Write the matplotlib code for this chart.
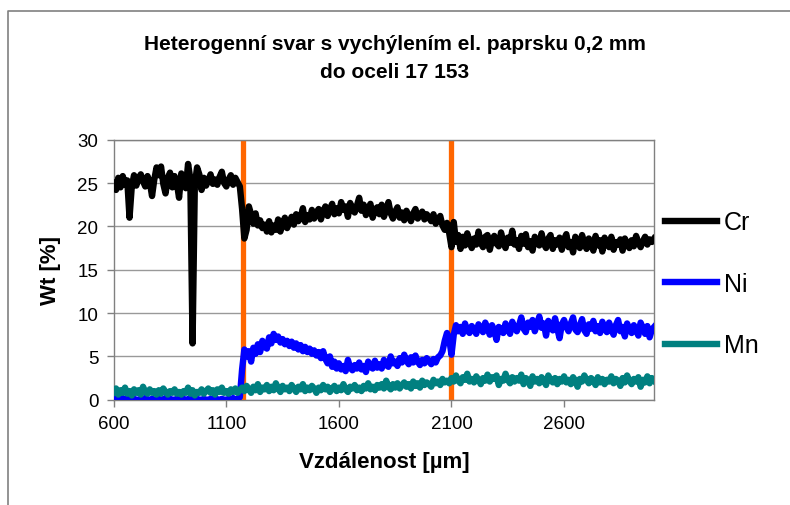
import numpy as np
import matplotlib.pyplot as plt
from matplotlib.lines import Line2D

plt.rcParams['font.family'] = ['Liberation Sans', 'DejaVu Sans']

# distance [um], 10 um step
dist = np.arange(600, 3001, 10)

cr = [
    25.0, 24.2, 25.6, 24.5, 25.8, 24.8, 25.3, 21.0, 24.6, 25.9,
    24.7, 25.5, 26.0, 25.2, 24.6, 25.8, 25.1, 23.5, 25.4, 26.8,
    25.9, 26.9, 24.9, 23.8, 25.6, 26.2, 24.5, 25.8, 25.0, 23.3,
    26.1, 25.2, 24.4, 27.2, 25.5, 6.5, 24.8, 26.8, 26.0, 24.2,
    25.6, 24.7, 25.3, 26.0, 24.9, 25.4, 24.8, 25.7, 26.3, 25.0,
    24.6, 25.4, 25.9, 24.8, 25.6, 25.1, 24.6, 22.0, 18.6, 19.6,
    22.3, 21.4, 20.3, 21.5, 20.1, 20.7, 19.8, 20.2, 19.4, 20.6,
    19.3, 20.1, 19.6, 20.8, 19.4, 20.3, 21.0, 19.8, 20.5, 21.1,
    20.2, 21.4, 20.6, 21.0, 22.1, 20.5, 21.3, 20.8, 21.9, 20.9,
    21.6, 22.0, 20.8, 21.7, 22.3, 21.2, 22.0, 22.6, 21.4, 22.1,
    21.5, 22.8, 21.9, 22.3, 21.1, 22.7, 22.0, 21.6, 22.4, 23.3,
    21.8, 22.5, 21.3, 22.0, 22.6, 21.0, 21.9, 22.2, 21.4, 22.5,
    21.1, 21.9, 22.8, 21.5, 20.9, 21.7, 22.2, 21.0, 21.6, 20.7,
    21.8, 21.2, 20.6, 21.5, 22.0, 20.9, 21.3, 21.7, 20.8, 21.4,
    21.0, 20.6, 21.4, 20.3, 20.8, 21.2, 20.1, 19.6, 20.4, 19.2,
    17.6, 20.5, 18.2, 19.0, 17.4, 18.8, 17.8, 19.2, 18.3, 17.5,
    18.6, 17.9, 19.4, 18.1, 17.6, 18.8, 19.0, 17.3, 18.4, 18.9,
    18.0, 17.7, 19.3, 18.2, 17.5, 18.7, 18.1, 19.5, 17.9, 18.4,
    17.4, 18.9, 18.0, 19.1, 17.6, 18.3, 17.2, 18.8, 18.1, 17.8,
    19.2, 18.0, 17.5, 18.6, 19.0, 17.4, 18.4, 17.9, 18.7, 17.3,
    18.5, 19.1, 17.6, 18.2, 17.0, 18.8, 18.3, 17.5, 19.0, 18.0,
    17.4, 18.6, 18.1, 17.2, 18.9, 17.8, 18.4, 17.1, 18.7, 18.0,
    17.6, 18.8, 17.3, 18.2, 17.9, 18.5, 17.2, 18.6, 18.0, 17.5,
    18.4, 17.7, 18.9, 18.1, 17.6, 18.3, 18.8, 17.9, 18.5, 18.2,
    18.6,
]

ni = [
    0.0, 0.1, 0.0, 0.0, 0.2, 0.0, 0.1, 0.0, 0.0, 0.1,
    0.0, 0.0, 0.1, 0.0, 0.2, 0.0, 0.0, 0.1, 0.0, 0.0,
    0.1, 0.0, 0.0, 0.2, 0.0, 0.1, 0.0, 0.0, 0.1, 0.0,
    0.0, 0.1, 0.0, 0.0, 0.2, 0.0, 0.0, 0.1, 0.0, 0.0,
    0.1, 0.0, 0.0, 0.1, 0.0, 0.2, 0.0, 0.0, 0.1, 0.0,
    0.0, 0.1, 0.0, 0.2, 0.0, 0.1, 0.3, 3.5, 5.8, 5.0,
    5.6, 4.4, 6.0, 5.3, 6.4, 5.5, 6.8, 6.1, 5.9, 7.2,
    6.5, 7.6, 6.9, 7.3, 6.6, 7.0, 6.4, 6.8, 6.2, 6.7,
    6.0, 6.5, 5.8, 6.3, 5.6, 6.1, 5.5, 5.9, 5.3, 5.7,
    5.1, 5.5, 4.8, 5.6, 4.7, 4.2, 5.0, 3.8, 4.4, 3.6,
    4.2, 3.5, 3.9, 3.3, 4.6, 3.7, 3.4, 4.0, 3.6, 4.3,
    3.5, 3.9, 3.2, 4.4, 3.8, 3.6, 4.5, 3.7, 4.1, 3.6,
    4.6, 4.0, 3.8, 5.0, 4.2, 4.4, 3.9, 4.8, 4.3, 5.2,
    4.5, 4.1, 4.9, 4.3, 5.1, 4.4, 4.0, 4.6, 4.2, 4.8,
    4.5, 4.1, 4.7, 4.3, 4.9, 5.1, 5.6, 6.8, 7.7, 7.0,
    5.2, 7.5, 8.6, 7.9, 8.4, 7.6, 8.8, 8.0, 7.7, 8.5,
    8.1, 7.6, 8.7, 8.2, 7.8, 8.9, 8.3, 7.5, 8.6, 8.0,
    6.9, 8.4, 8.1, 7.7, 8.8, 8.2, 7.6, 9.0, 8.3, 7.9,
    8.6, 9.5, 8.2, 7.8, 8.9, 8.4, 9.2, 7.9, 8.7, 9.6,
    8.3, 8.8, 7.4, 9.1, 8.5, 8.0, 9.4, 8.2, 7.1, 8.7,
    9.2, 8.4, 7.9, 8.8, 9.5, 8.1, 7.8, 8.6, 9.3, 8.0,
    7.6, 8.7, 8.2, 9.1, 7.9, 8.5, 7.7, 9.0, 8.3, 7.8,
    8.9, 8.1, 7.5, 8.6, 9.2, 7.9, 8.4, 7.3, 8.8, 8.2,
    7.7, 8.6, 8.0, 7.4, 8.9, 8.3, 7.6, 8.5, 7.2, 8.1,
    8.4,
]

mn = [
    0.9, 1.3, 0.6, 1.1, 0.8, 1.4, 0.7, 1.0, 0.5, 1.2,
    0.8, 1.1, 0.6, 1.5, 0.9, 0.7, 1.2, 0.8, 1.0, 0.6,
    1.1, 0.7, 1.3, 0.9, 0.6, 1.0, 0.8, 1.2, 0.7, 0.9,
    0.6, 1.0, 0.8, 1.4, 0.7, 1.1, 0.5, 0.9, 0.8, 1.2,
    0.7, 1.0, 1.3, 0.8, 1.1, 0.6, 1.2, 0.9, 1.4, 0.8,
    1.0, 0.7, 1.2, 0.9, 1.3, 0.8, 1.1, 1.4, 1.0, 1.6,
    1.2, 0.8, 1.5, 1.1, 1.8, 0.9, 1.4, 1.2, 1.7, 1.0,
    1.5, 1.1, 1.9, 1.3, 0.9, 1.6, 1.2, 1.4, 1.0, 1.7,
    1.3, 0.9, 1.5, 1.2, 1.8, 1.0, 1.4, 1.1, 1.6, 1.3,
    0.8, 1.4, 1.1, 1.7, 1.2, 1.5, 0.9, 1.3, 1.6, 1.0,
    1.4, 1.1, 1.8, 1.2, 0.9, 1.5, 1.3, 1.7, 1.1, 1.4,
    1.0, 1.6, 1.3, 1.9, 1.2, 1.5, 1.1, 1.7, 1.4, 1.8,
    1.3, 2.2, 1.5, 1.2, 1.8, 1.4, 1.9, 1.3, 1.7, 2.0,
    1.5, 1.8, 1.3, 2.1, 1.6, 1.9, 1.4, 2.2, 1.7, 2.0,
    1.8, 1.5, 2.3, 1.9, 2.1, 1.7, 2.4, 2.0, 2.2, 1.9,
    2.5, 2.1, 2.8, 2.2, 1.9, 2.6, 2.3, 3.0, 2.1, 2.4,
    2.0, 2.7, 2.3, 1.8, 2.5, 2.2, 2.9, 2.1, 2.6, 2.4,
    2.8, 1.7, 2.4, 2.2, 3.0, 2.3, 1.9, 2.6, 2.1, 2.5,
    2.2, 2.9, 1.8, 2.5, 2.3, 1.6, 2.7, 2.1, 2.4, 1.9,
    2.6, 2.2, 1.7, 2.8, 2.3, 2.0, 2.5, 1.8, 2.4, 2.1,
    2.7, 2.0, 2.3, 1.8, 2.6, 2.2, 1.5, 2.4, 2.1, 2.8,
    2.3, 1.9, 2.5, 2.2, 1.7, 2.6, 2.0, 2.4, 1.8, 2.3,
    2.1, 2.7, 1.9, 2.4, 2.2, 1.6, 2.5, 2.0, 2.8, 2.2,
    1.8, 2.4, 2.1, 2.6, 1.5, 2.3, 2.0, 2.7, 1.9, 2.5,
    2.2,
]

# weld boundaries
boundaries = [1175, 2100]

fig = plt.figure(figsize=(7.9, 5.06), dpi=100)
ax = fig.add_axes([0.144, 0.208, 0.684, 0.514])

for b in boundaries:
    ax.plot([b, b], [0, 30], color='#FF6600', lw=3.8, solid_capstyle='butt', zorder=2)

ax.plot(dist, cr, color='black', lw=4.6, label='Cr', zorder=3)
ax.plot(dist, ni, color='#0000FF', lw=4.6, label='Ni', zorder=3)
ax.plot(dist, mn, color='#008080', lw=4.6, label='Mn', zorder=4)

ax.set_xlim(600, 3000)
ax.set_ylim(0, 30)
ax.set_xticks([600, 1100, 1600, 2100, 2600])
ax.set_yticks(range(0, 31, 5))
ax.yaxis.grid(True, color='#999999', lw=1)
ax.set_axisbelow(True)
for s in ax.spines.values():
    s.set_color('#808080')
    s.set_linewidth(1)
ax.tick_params(labelsize=13.5, color='#808080', length=5, width=1, pad=6)

ax.set_xlabel('Vzdálenost [µm]', fontsize=16, fontweight='bold', labelpad=14)
ax.set_ylabel('Wt [%]', fontsize=16, fontweight='bold', labelpad=12)

fig.text(0.5, 0.884, 'Heterogenní svar s vychýlením el. paprsku 0,2 mm\ndo oceli 17 153',
         ha='center', va='center', fontsize=15, fontweight='bold', linespacing=1.6)

fig.legend(handles=ax.get_lines()[2:], loc='center left', bbox_to_anchor=(0.829, 0.437),
           frameon=False, fontsize=18, handlelength=2.1, handletextpad=0.25,
           labelspacing=1.5, borderaxespad=0.0)

# chart frame (top and left edges)
fig.add_artist(Line2D([7.5 / 790, 7.5 / 790, 1.0], [0.0, 1 - 11.5 / 506, 1 - 11.5 / 506],
                      transform=fig.transFigure, color='#808080', lw=1.2))

fig.savefig('out.png', dpi=100)
